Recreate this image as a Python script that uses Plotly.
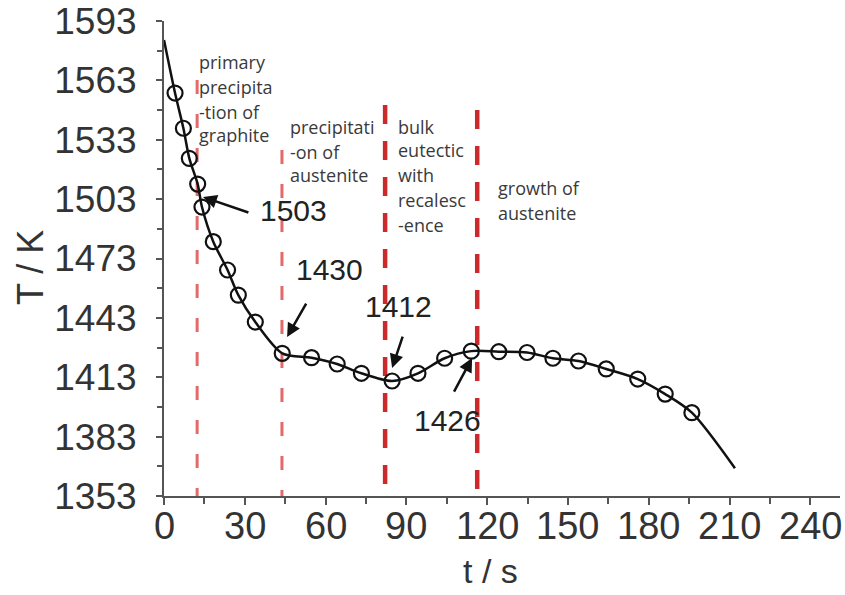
import plotly.graph_objects as go

# ---- data ----
t_circ = [4.1, 7.2, 9.4, 12.5, 14.1, 18.3, 23.6, 27.6, 33.9, 43.9, 54.8, 64.3, 73.3,
          84.7, 94.3, 104.2, 114.1, 124.3, 134.8, 144.4, 153.9, 164.2, 175.9, 186.1, 196.0]
T_circ = [1556.6, 1538.8, 1523.6, 1510.6, 1499.0, 1481.5, 1467.2, 1454.5, 1440.9, 1425.1,
          1422.9, 1419.7, 1415.0, 1411.1, 1415.0, 1422.6, 1426.2, 1425.9, 1425.5, 1422.6,
          1421.2, 1417.2, 1412.1, 1404.5, 1395.1]

line_t = [0.0] + t_circ + [212.0]
line_T = [1583.4] + T_circ + [1367.0]

phase_t = [12.3, 43.8, 82.1, 116.3]
phase_top = [1563.2, 1527.8, 1550.6, 1548.0]
phase_color = ["#e36a6a", "#e36a6a", "#cc2a2a", "#cc2a2a"]
phase_width = [3, 3, 4.5, 4.5]
phase_dash = ["14px,20px", "14px,20px", "19px,17px", "19px,17px"]

phase_labels = [
    (["primary", "precipita", "-tion of", "graphite"], 12.4, [1572.4, 1559.8, 1547.2, 1535.4]),
    (["precipitati", "-on of", "austenite"], 46.0, [1539.6, 1527.0, 1515.2]),
    (["bulk", "eutectic", "with", "recalesc", "-ence"], 86.2, [1539.6, 1527.6, 1515.2, 1502.6, 1489.7]),
    (["growth of", "austenite"], 123.3, [1508.6, 1496.0]),
]

point_labels = ["1503", "1430", "1412", "1426"]
label_t = [47.9, 61.3, 86.9, 105.1]
label_T = [1497.5, 1467.2, 1448.5, 1391.4]
head_t = [14.5, 45.7, 84.7, 114.4]
head_T = [1504.1, 1433.3, 1417.7, 1422.7]
tail_t = [31.9, 53.1, 88.8, 107.4]
tail_T = [1496.0, 1451.0, 1434.3, 1405.0]

x_ticks = [0, 30, 60, 90, 120, 150, 180, 210, 240]
x_tick_labels = ["0", "30", "60", "90", "120", "150", "180", "210", "240"]
y_ticks = [1353, 1383, 1413, 1443, 1473, 1503, 1533, 1563, 1593]

W, H = 845, 595
L, R, T_, B = 164, 5, 21, 99
pw, ph = W - L - R, H - T_ - B

fig = go.Figure()

for t, top, c, w, d in zip(phase_t, phase_top, phase_color, phase_width, phase_dash):
    fig.add_trace(go.Scatter(x=[t, t], y=[top, 1353], mode="lines",
                             line=dict(color=c, width=w, dash=d), hoverinfo="skip",
                             showlegend=False))

fig.add_trace(go.Scatter(x=line_t, y=line_T, mode="lines",
                         line=dict(color="#111111", width=2.5, shape="spline", smoothing=0.8),
                         showlegend=False))
fig.add_trace(go.Scatter(x=t_circ, y=T_circ, mode="markers",
                         marker=dict(symbol="circle-open", size=15, color="#111111",
                                     line=dict(width=2.2, color="#111111")),
                         showlegend=False))

annotations = []
for lines, tx, ys in phase_labels:
    for txt, yy in zip(lines, ys):
        annotations.append(dict(x=tx, y=yy, xref="x", yref="y", text=txt, showarrow=False,
                                xanchor="left", yanchor="middle",
                                font=dict(family="Open Sans", size=18, color="#3a3a3a")))

for lab, lt, lT in zip(point_labels, label_t, label_T):
    annotations.append(dict(x=lt, y=lT, xref="x", yref="y", text=lab, showarrow=False,
                            xanchor="center", yanchor="middle",
                            font=dict(family="Liberation Sans", size=30, color="#222222")))

for ht, hT, tt, tT in zip(head_t, head_T, tail_t, tail_T):
    annotations.append(dict(x=ht, y=hT, xref="x", yref="y", ax=tt, ay=tT, axref="x", ayref="y",
                            text="", showarrow=True, arrowhead=2, arrowsize=1.1,
                            arrowwidth=2.5, arrowcolor="#111111"))

# x tick labels (placed just under the ticks)
for xv, xl in zip(x_ticks, x_tick_labels):
    annotations.append(dict(x=xv, y=-(526 - (H - B)) / ph, xref="x", yref="paper", text=xl,
                            showarrow=False, xanchor="center", yanchor="middle",
                            font=dict(family="Liberation Sans", size=38, color="#333333")))

annotations.append(dict(x=(30 - L) / pw, y=(H - B - 268) / ph, xref="paper", yref="paper",
                        text="T / K", showarrow=False, textangle=-90,
                        xanchor="center", yanchor="middle",
                        font=dict(family="Liberation Sans", size=36, color="#333333")))
annotations.append(dict(x=(490 - L) / pw, y=(H - B - 571) / ph, xref="paper", yref="paper",
                        text="t / s", showarrow=False, xanchor="center", yanchor="middle",
                        font=dict(family="Liberation Sans", size=34, color="#333333")))

fig.update_layout(
    annotations=annotations,
    width=W, height=H,
    margin=dict(l=L, r=R, t=T_, b=B, autoexpand=False),
    paper_bgcolor="white", plot_bgcolor="white",
    xaxis=dict(range=[0, 251], tickvals=x_ticks, showticklabels=False,
               showgrid=False, zeroline=False, showline=True, linecolor="#555555", linewidth=2,
               ticks="outside", ticklen=7, tickwidth=1.5, tickcolor="#555555",
               minor=dict(dtick=15, tick0=0, ticks="outside", ticklen=6, tickcolor="#555555", tickwidth=1.5),
               automargin=False),
    yaxis=dict(range=[1353, 1593], tickvals=y_ticks, ticktext=[str(v) for v in y_ticks],
               showgrid=False, zeroline=False, showline=True, linecolor="#555555", linewidth=2,
               ticks="outside", ticklen=6, tickwidth=1.5, tickcolor="#555555",
               minor=dict(dtick=15, tick0=1353, ticks="outside", ticklen=5, tickcolor="#555555", tickwidth=1.5),
               tickfont=dict(family="Liberation Sans", size=37, color="#333333"),
               ticklabelstandoff=12, automargin=False),
)

fig.write_html("out.html", config={"displayModeBar": False},
               post_script="document.body.style.margin='0px';")
